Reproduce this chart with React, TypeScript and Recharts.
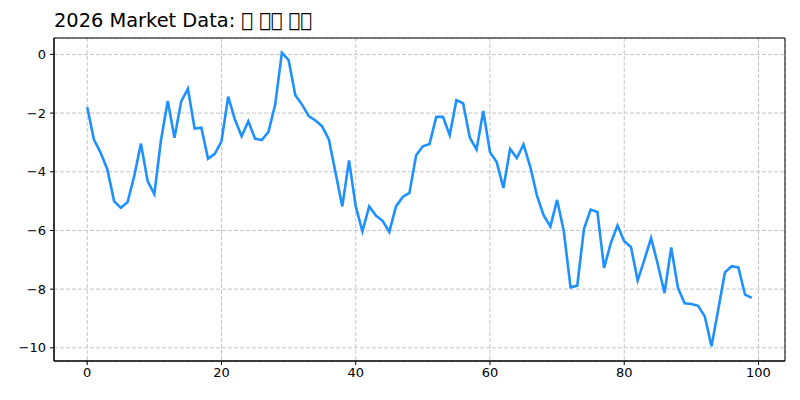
import { LineChart, Line, XAxis, YAxis, CartesianGrid, ReferenceArea } from "recharts";

const steps = Array.from({ length: 100 }, (_, i) => i);
const values = [
  -1.8, -2.9, -3.35, -3.92, -5.0, -5.23, -5.04, -4.15, -3.04, -4.32,
  -4.76, -2.9, -1.59, -2.84, -1.6, -1.17, -2.53, -2.5, -3.56, -3.39,
  -2.96, -1.44, -2.22, -2.79, -2.28, -2.87, -2.92, -2.64, -1.71, 0.06,
  -0.19, -1.39, -1.71, -2.1, -2.25, -2.45, -2.9, -4.04, -5.18, -3.61,
  -5.18, -6.03, -5.18, -5.49, -5.67, -6.05, -5.18, -4.86, -4.72, -3.44,
  -3.13, -3.05, -2.13, -2.13, -2.75, -1.56, -1.67, -2.84, -3.24, -1.93,
  -3.33, -3.67, -4.55, -3.22, -3.53, -3.07, -3.83, -4.81, -5.49, -5.86,
  -4.96, -6.03, -7.94, -7.88, -5.95, -5.29, -5.37, -7.28, -6.43, -5.83,
  -6.37, -6.56, -7.7, -7.0, -6.26, -7.15, -8.13, -6.58, -7.96, -8.48,
  -8.51, -8.57, -8.93, -9.95, -8.7, -7.43, -7.22, -7.26, -8.19, -8.3,
];
const xTicks = [0, 20, 40, 60, 80, 100];
const yTicks = [0, -2, -4, -6, -8, -10];
// the glyphs of the original title are missing, shown as empty boxes
const title = "2026 Market Data: \uE000 \uE000\uE000 \uE000\uE000";

const data = steps.map((x, i) => ({ x, y: values[i] }));

const font = "'DejaVu Sans', sans-serif";
const fmt = (v: number) => String(v).replace("-", "\u2212");

export default function App() {
  return (
    <div style={{ position: "absolute", left: 0, top: 0, width: 800, height: 400, background: "#fff" }}>
      <div
        style={{
          position: "absolute",
          left: 54,
          top: 9,
          fontFamily: font,
          fontSize: 19.4,
          color: "#000",
          whiteSpace: "pre",
        }}
      >
        {title}
      </div>
      <LineChart width={800} height={400} data={data} margin={{ top: 38, right: 15, bottom: 0, left: 0 }}>
        <CartesianGrid stroke="#c4c4c4" strokeDasharray="4 2" />
        <XAxis
          dataKey="x"
          type="number"
          domain={[-4.95, 103.95]}
          ticks={xTicks}
          height={39}
          tickSize={4}
          tickMargin={3}
          axisLine={{ stroke: "#000" }}
          tickLine={{ stroke: "#000" }}
          tick={{ fill: "#000", fontSize: 13, fontFamily: font }}
          allowDataOverflow
        />
        <YAxis
          type="number"
          domain={[-10.45, 0.56]}
          ticks={yTicks}
          width={54}
          tickSize={4}
          tickMargin={4}
          tickFormatter={fmt}
          axisLine={{ stroke: "#000" }}
          tickLine={{ stroke: "#000" }}
          tick={{ fill: "#000", fontSize: 13, fontFamily: font }}
          allowDataOverflow
        />
        <ReferenceArea x1={-4.95} x2={103.95} y1={-10.45} y2={0.56} fill="none" stroke="#000" strokeWidth={1} />
        <Line
          type="linear"
          dataKey="y"
          stroke="#1e90ff"
          strokeWidth={2.6}
          dot={false}
          isAnimationActive={false}
        />
      </LineChart>
    </div>
  );
}
